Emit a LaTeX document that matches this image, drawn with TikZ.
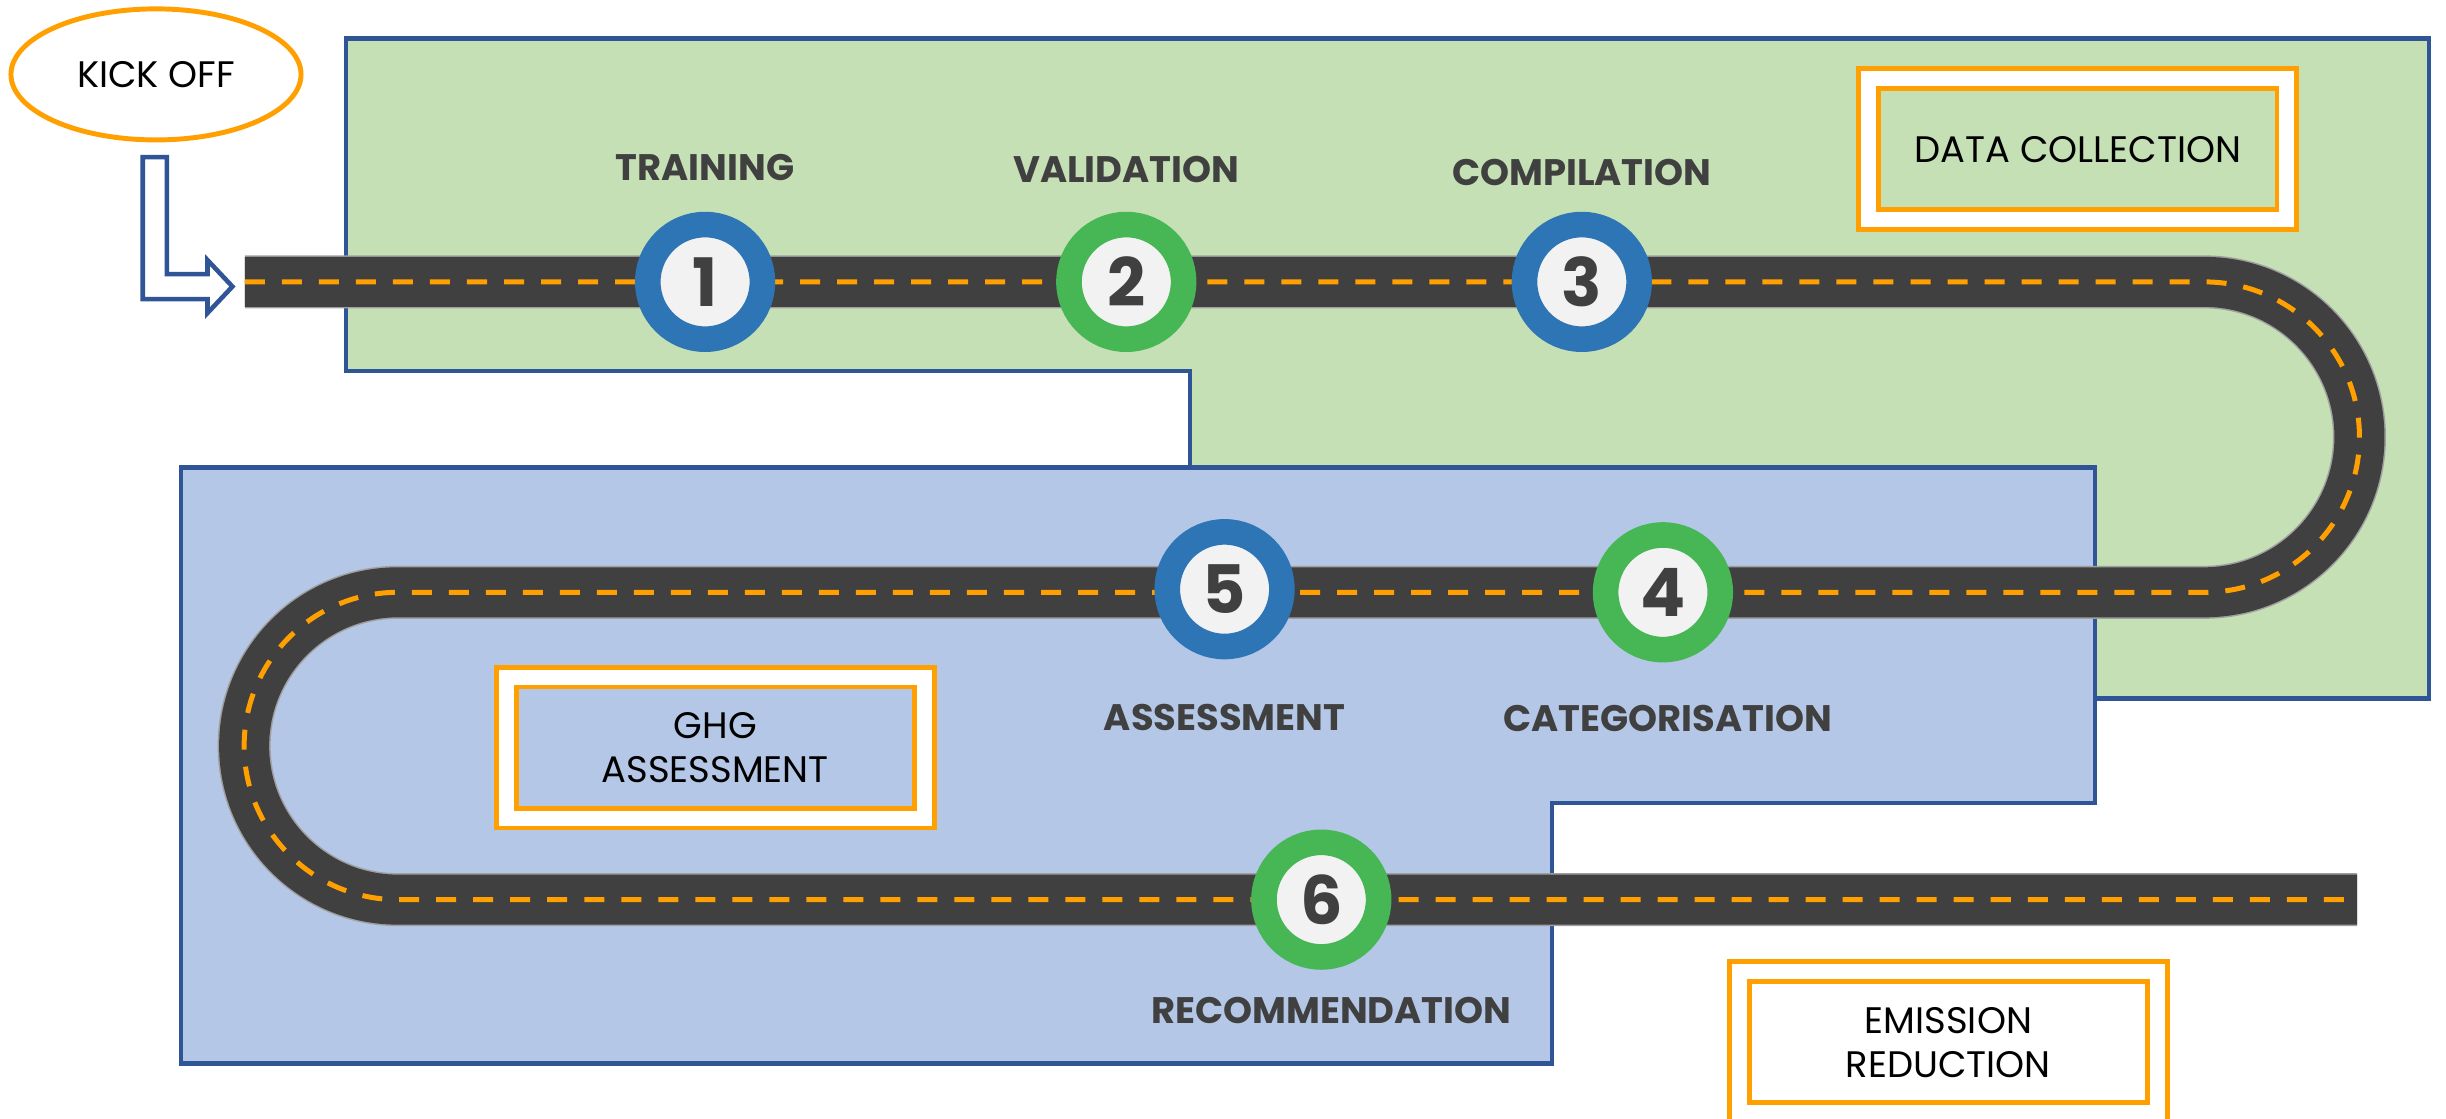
\documentclass[tikz,border=0pt]{standalone}
\usepackage{fontspec}
\setmainfont{Poppins}
\usetikzlibrary{positioning,shapes.geometric}

\definecolor{roadgray}{HTML}{404040}
\definecolor{lanegold}{HTML}{FFA000}
\definecolor{frameblue}{HTML}{2F5597}
\definecolor{zonegreen}{HTML}{C5E0B4}
\definecolor{zoneblue}{HTML}{B4C7E7}
\definecolor{stepblue}{HTML}{2E75B6}
\definecolor{stepgreen}{HTML}{47B654}
\definecolor{stepface}{HTML}{F2F2F2}

\tikzstyle{zone} = [draw=frameblue, line width=1.2pt]
\tikzstyle{road-edge} = [line width=0.53cm, color=gray!75]
\tikzstyle{road} = [line width=0.5cm, color=roadgray]
\tikzstyle{lane} = [line width=0.05cm, color=lanegold, dash pattern=on 0.2cm off 0.17cm]
\tikzstyle{milestone} = [circle, fill=stepface, line width=0.256cm, minimum size=1.146cm, inner sep=0pt, text=roadgray, font=\fontsize{19}{19}\selectfont\bfseries]
\tikzstyle{blue-milestone} = [milestone, draw=stepblue]
\tikzstyle{green-milestone} = [milestone, draw=stepgreen]
\tikzstyle{step-label} = [inner sep=0pt, text=roadgray, font=\fontsize{10.5}{12}\selectfont\bfseries, node distance=0.3cm]
\tikzstyle{phase-box} = [rectangle, draw=lanegold, double=white, line width=1.4pt, double distance=0.15cm, minimum width=4.18cm, minimum height=1.41cm, align=center, font=\fontsize{10.5}{12.6}\selectfont]

\begin{document}
\begin{tikzpicture}[x=0.0156cm, y=0.0156cm]
	\useasboundingbox (0,0) rectangle (1568,716.7);

	% zones
	\draw[zone, fill=zonegreen] (222,692) -- (1557,692) -- (1557,269) -- (763,269) -- (763,479) -- (222,479) -- cycle;
	\draw[zone, fill=zoneblue] (116,417) -- (1343,417) -- (1343,202) -- (995,202) -- (995,35) -- (116,35) -- cycle;

	% road
	\coordinate (road-start) at (157,536);
	\foreach \s in {road-edge,road,lane}{%
		\draw[\s] (road-start) -- (1413,536) arc[start angle=90, end angle=-90, radius=99.5] -- (255,337) arc[start angle=90, end angle=270, radius=98.5] -- (1511,140) coordinate (road-end);}

	% milestones
	\foreach \n/\x/\y/\c in {1/452/536/blue, 2/722/536/green, 3/1014/536/blue, 4/1066/337/green, 5/785/339/blue, 6/847/140/green}{%
		\node[\c-milestone] (m\n) at (\x,\y) {\n};}

	\node[step-label, above=of m1] (training) {TRAINING};
	\node[step-label, above=0.28cm of m2] (validation) {VALIDATION};
	\node[step-label, above=0.25cm of m3] (compilation) {COMPILATION};
	\node[step-label, below=0.42cm of m4, xshift=0.05cm] (categorisation) {CATEGORISATION};
	\node[step-label, below=0.44cm of m5] (assessment) {ASSESSMENT};
	\node[step-label, below=0.27cm of m6, xshift=0.1cm] (recommendation) {RECOMMENDATION};

	% phases
	\node[phase-box, fill=zonegreen] (data-collection) at (1332,621) {DATA COLLECTION};
	\node[phase-box, fill=zoneblue] (ghg-assessment) at (458.5,237.5) {GHG\\ASSESSMENT};
	\node[phase-box, fill=white] (emission-reduction) at (1249,48.5) {EMISSION\\REDUCTION};

	% kick off
	\node[ellipse, draw=lanegold, line width=1.4pt, fill=white, minimum width=2.9cm, minimum height=1.31cm, inner sep=0pt, font=\fontsize{10.5}{12}\selectfont] (kickoff) at (100,669) {KICK OFF};
	\draw[frameblue, line width=1.3pt, fill=white, line join=miter] (91.5,616) -- (107,616) -- (107,541) -- (133,541) -- (133,550) -- (149,533) -- (133,516) -- (133,525) -- (91.5,525) -- cycle;
\end{tikzpicture}
\end{document}
